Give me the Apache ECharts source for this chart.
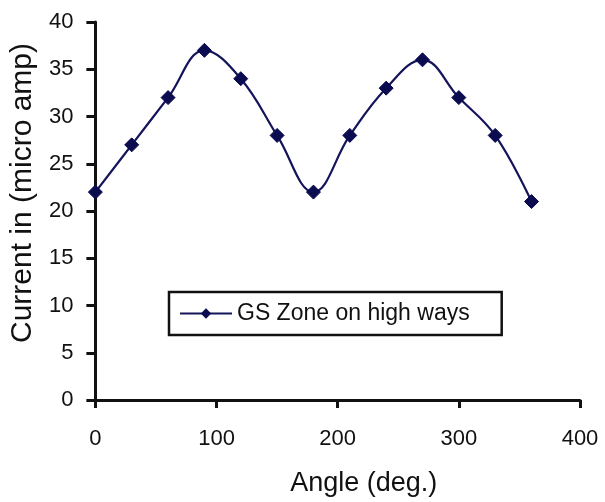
<!DOCTYPE html>
<html>
<head>
<meta charset="utf-8">
<script src="https://cdn.jsdelivr.net/npm/echarts@6/dist/echarts.min.js"></script>
<style>
html,body{margin:0;padding:0;background:#fff;}
#c{width:605px;height:502px;}
</style>
</head>
<body>
<div id="c"></div>
<script>
var angles = [0, 30, 60, 90, 120, 150, 180, 210, 240, 270, 300, 330, 360];
var current = [22, 27, 32, 37, 34, 28, 22, 28, 33, 36, 32, 28, 21];
var seriesName = 'GS Zone on high ways';
var xTitle = 'Angle (deg.)';
var yTitle = 'Current in (micro amp)';

var chart = echarts.init(document.getElementById('c'));
var font = 'Liberation Sans, Arial, sans-serif';
var ink = '#111';
chart.setOption({
  backgroundColor: '#ffffff',
  animation: false,
  grid: {left: 93, right: 25, top: 22, bottom: 98, containLabel: false},
  legend: {
    left: 169, top: 292,
    padding: [10, 32, 10, 10],
    borderColor: '#111', borderWidth: 2.5,
    backgroundColor: '#fff',
    itemWidth: 52, itemHeight: 13, itemGap: 6,
    textStyle: {fontSize: 23, fontFamily: font, color: ink},
    data: [seriesName]
  },
  xAxis: {
    type: 'value', min: 0, max: 400, interval: 100,
    name: xTitle, nameLocation: 'middle', nameGap: 70,
    nameTextStyle: {fontSize: 27, fontFamily: font, color: ink, padding: [0, 0, 0, 52]},
    axisLine: {show: true, lineStyle: {color: '#111', width: 3}},
    axisTick: {show: true, inside: false, length: 8, lineStyle: {color: '#111', width: 3}},
    axisLabel: {fontSize: 22, fontFamily: font, color: ink, margin: 28},
    splitLine: {show: false}
  },
  yAxis: {
    type: 'value', min: 0, max: 40, interval: 5,
    name: yTitle, nameLocation: 'middle', nameGap: 55, nameRotate: 90,
    nameTextStyle: {fontSize: 30, fontFamily: font, color: ink, padding: [0, 0, 0, 36]},
    axisLine: {show: true, lineStyle: {color: '#111', width: 3}},
    axisTick: {show: true, inside: false, length: 9, lineStyle: {color: '#111', width: 3}},
    axisLabel: {fontSize: 22, fontFamily: font, color: ink, margin: 22},
    splitLine: {show: false}
  },
  series: [{
    name: seriesName,
    type: 'line',
    data: angles.map(function (a, i) { return [a, current[i]]; }),
    smooth: 0.4,
    symbol: 'diamond',
    symbolSize: 14,
    lineStyle: {color: '#14145a', width: 2.2},
    itemStyle: {color: '#0b0b50', borderColor: '#0b0b50'}
  }]
});
</script>
</body>
</html>
